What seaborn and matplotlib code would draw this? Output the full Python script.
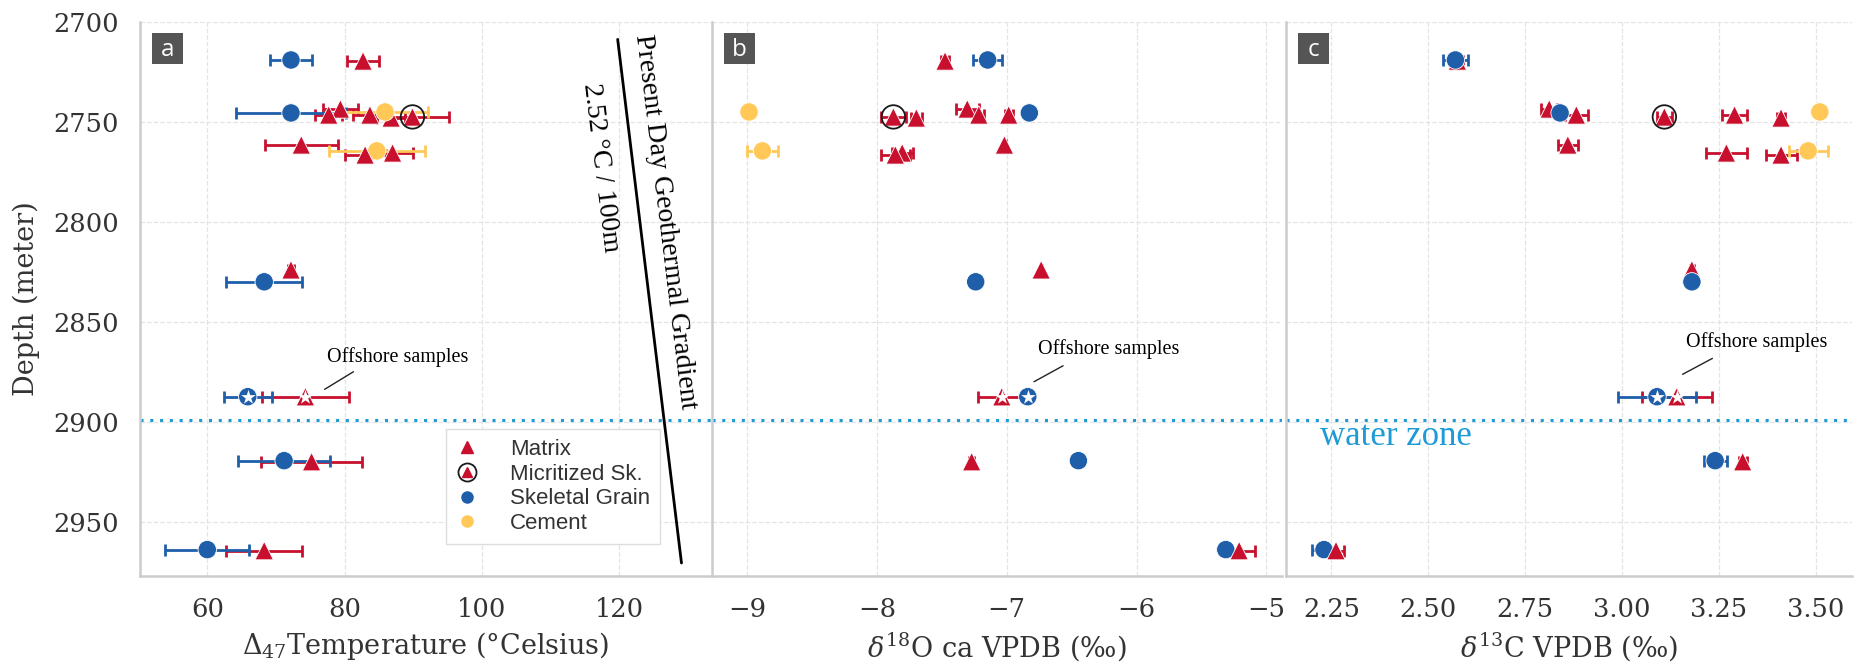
import numpy as np
import pandas as pd
import matplotlib
matplotlib.use("Agg")
import matplotlib.pyplot as plt
from matplotlib.lines import Line2D
from matplotlib.patches import Rectangle
from matplotlib.legend_handler import HandlerTuple
import seaborn as sns

# ---- sample table -------------------------------------------------------
kind = ["Matrix", "Skeletal Grain", "Matrix", "Matrix", "Matrix", "Matrix",
        "Skeletal Grain", "Cement", "Micritized Sk.", "Matrix", "Cement",
        "Matrix", "Matrix", "Matrix", "Skeletal Grain", "Skeletal Grain",
        "Matrix", "Skeletal Grain", "Matrix", "Skeletal Grain", "Matrix"]
depth = [2719.5, 2719.0, 2743.5, 2746.5, 2746.5, 2748.0,
         2745.5, 2745.0, 2747.5, 2761.5, 2764.5,
         2765.5, 2766.5, 2824.0, 2830.0, 2887.5,
         2887.5, 2919.5, 2920.0, 2964.0, 2964.5]
offshore = [False, False, False, False, False, False,
            False, False, False, False, False,
            False, False, False, False, True,
            True, False, False, False, False]

# clumped-isotope temperature (deg C)
temp = [82.7, 72.2, 79.4, 77.7, 83.7, 86.8,
        72.2, 85.9, 89.9, 73.7, 84.7,
        87.0, 83.0, 72.2, 68.3, 65.9,
        74.3, 71.2, 75.2, 60.0, 68.3]
temp_err = [2.3, 3.0, 2.6, 2.0, 2.5, 2.0,
            8.0, 6.3, 5.3, 5.3, 7.0,
            3.0, 3.0, 0.5, 5.5, 3.5,
            6.3, 6.7, 7.3, 6.1, 5.5]

# d18O (permil VPDB)
d18o = [-7.475, -7.147, -7.304, -7.215, -6.985, -7.696,
        -6.826, -8.985, -7.873, -7.018, -8.882,
        -7.805, -7.858, -6.735, -7.239, -6.838,
        -7.038, -6.448, -7.270, -5.313, -5.210]
d18o_err = [0.03, 0.11, 0.09, 0.04, 0.03, 0.04,
            0.01, 0.05, 0.095, 0.01, 0.12,
            0.08, 0.11, 0.01, 0.01, 0.02,
            0.18, 0.01, 0.02, 0.02, 0.12]

# d13C (permil VPDB)
d13c = [2.575, 2.570, 2.812, 2.882, 3.290, 3.410,
        2.840, 3.510, 3.109, 2.860, 3.480,
        3.269, 3.410, 3.180, 3.180, 3.090,
        3.141, 3.240, 3.311, 2.231, 2.262]
d13c_err = [0.015, 0.033, 0.02, 0.03, 0.032, 0.01,
            0.01, 0.01, 0.02, 0.025, 0.05,
            0.053, 0.04, 0.005, 0.005, 0.10,
            0.09, 0.03, 0.01, 0.03, 0.02]

kind_order = ["Matrix", "Micritized Sk.", "Skeletal Grain", "Cement"]
palette = {"Matrix": "#C8102E", "Micritized Sk.": "#C8102E",
           "Skeletal Grain": "#1F5FA9", "Cement": "#FFC857"}
markers = {"Matrix": "^", "Micritized Sk.": "^",
           "Skeletal Grain": "o", "Cement": "o"}

# present-day geothermal gradient (2.52 degC / 100 m)
geotherm_temp = [119.8, 129.1]
geotherm_depth = [2708.7, 2970.7]

water_contact = 2899.0
depth_ticks = [2700, 2750, 2800, 2850, 2900, 2950]

df = pd.DataFrame({
    "kind": kind, "depth": depth, "offshore": offshore,
    "temp": temp, "temp_err": temp_err,
    "d18o": d18o, "d18o_err": d18o_err,
    "d13c": d13c, "d13c_err": d13c_err,
})

# ---- style -------------------------------------------------------------
sns.set_theme(style="whitegrid")
plt.rcParams["font.family"] = ["DejaVu Serif"]
plt.rcParams["mathtext.fontset"] = "dejavuserif"
plt.rcParams["axes.unicode_minus"] = True

panels = [
    dict(col="temp", err="temp_err", xlim=(50.2, 133.4), ticks=[60, 80, 100, 120],
         ticklabels=["60", "80", "100", "120"],
         xlabel=r"$\Delta_{47}$Temperature (°Celsius)", tag="a",
         pos=[140, 571], offshore_text=(87.7, 2867.5),
         offshore_line=([81.3, 77.1], [2875.0, 2883.8])),
    dict(col="d18o", err="d18o_err", xlim=(-9.27, -4.88), ticks=[-9, -8, -7, -6, -5],
         ticklabels=["\u22129", "\u22128", "\u22127", "\u22126", "\u22125"],
         xlabel=r"$\delta^{18}$O ca VPDB (‰)", tag="b",
         pos=[712, 570], offshore_text=(-6.218, 2863.6),
         offshore_line=([-6.566, -6.79], [2872.0, 2880.0])),
    dict(col="d13c", err="d13c_err", xlim=(2.133, 3.593),
         ticks=[2.25, 2.50, 2.75, 3.00, 3.25, 3.50],
         ticklabels=["2.25", "2.50", "2.75", "3.00", "3.25", "3.50"],
         xlabel=r"$\delta^{13}$C VPDB (‰)", tag="c",
         pos=[1286, 566], offshore_text=(3.348, 2860.3),
         offshore_line=([3.233, 3.156], [2868.3, 2876.3])),
]

W, H = 1859, 662
fig = plt.figure(figsize=(W / 100, H / 100), dpi=100)
ax_bottom_px, ax_top_px = 576, 22

axes = []
for i, p in enumerate(panels):
    left_px, width_px = p["pos"]
    ax = fig.add_axes([left_px / W, 1 - ax_bottom_px / H,
                       width_px / W, (ax_bottom_px - ax_top_px) / H])
    axes.append(ax)

    # error bars underneath the symbols
    for k in kind_order:
        sub = df[df["kind"] == k]
        ax.errorbar(sub[p["col"]], sub["depth"], xerr=sub[p["err"]], fmt="none",
                    ecolor=palette[k], elinewidth=2.0, capsize=4.5, capthick=2.0,
                    zorder=2)

    sns.scatterplot(data=df, x=p["col"], y="depth", hue="kind", style="kind",
                    hue_order=kind_order, style_order=kind_order,
                    palette=palette, markers=markers, s=175,
                    edgecolor="white", linewidth=0.6, legend=False, ax=ax, zorder=3)

    mic = df[df["kind"] == "Micritized Sk."]
    ax.scatter(mic[p["col"]], mic["depth"], s=285, facecolors="none",
               edgecolors="#1a1a1a", linewidths=1.3, zorder=4)
    off = df[df["offshore"]]
    ax.scatter(off[p["col"]], off["depth"], marker="*", s=120, color="white",
               linewidths=0, zorder=5)

    ax.axhline(water_contact, color="#1E9BD7", ls=(0, (1, 2.2)), lw=2.2, zorder=1)

    # offshore annotation
    tx, ty = p["offshore_text"]
    ax.text(tx, ty, "Offshore samples", family="Liberation Serif", fontsize=14.5,
            ha="center", va="center", color="black", zorder=6)
    lx, ly = p["offshore_line"]
    ax.plot(lx, ly, color="#222222", lw=1.0, zorder=6)

    ax.set_xlim(*p["xlim"])
    ax.set_ylim(2977.2, 2700)
    ax.set_xticks(p["ticks"])
    ax.set_xticklabels(p["ticklabels"])
    ax.set_yticks(depth_ticks)
    ax.set_xlabel(p["xlabel"], fontsize=19.5, color="#333333", labelpad=6)
    if i == 0:
        ax.set_ylabel("Depth (meter)", fontsize=19.5, color="#333333", labelpad=10)
        ax.tick_params(axis="y", labelsize=18.5, labelcolor="#333333", pad=9)
    else:
        ax.set_ylabel("")
        ax.tick_params(axis="y", labelleft=False)
    ax.tick_params(axis="x", labelsize=18.5, labelcolor="#333333", pad=9)

    ax.grid(True, ls="--", color="#e4e4e4", lw=0.9)
    ax.set_axisbelow(True)
    for side in ["top", "right"]:
        ax.spines[side].set_visible(False)
    for side in ["left", "bottom"]:
        ax.spines[side].set_color("#cccccc")
        ax.spines[side].set_linewidth(1.8)

    # panel tag box
    bw = 31 / width_px
    bh = 31 / (ax_bottom_px - ax_top_px)
    cx, cy = 0.048, 0.953
    ax.add_patch(Rectangle((cx - bw / 2, cy - bh / 2), bw, bh, transform=ax.transAxes,
                           facecolor="#555555", edgecolor="none", zorder=7))
    ax.text(cx, cy - 0.004, p["tag"], transform=ax.transAxes, ha="center", va="center",
            color="white", family="Open Sans", fontsize=17.5, zorder=8)

ax_a, ax_b, ax_c = axes

# geothermal gradient line and its labels
ax_a.plot(geotherm_temp, geotherm_depth, color="black", lw=2.0, zorder=2)
p0 = ax_a.transData.transform((geotherm_temp[0], geotherm_depth[0]))
p1 = ax_a.transData.transform((geotherm_temp[1], geotherm_depth[1]))
angle = np.degrees(np.arctan2(p1[1] - p0[1], p1[0] - p0[0]))
ax_a.text(126.7, 2800.0, "Present Day Geothermal Gradient", family="Liberation Serif",
          fontsize=20, rotation=angle, rotation_mode="anchor", ha="center", va="center",
          color="black")
ax_a.text(117.4, 2773.0, "2.52 °C / 100m", family="Liberation Serif",
          fontsize=20, rotation=angle, rotation_mode="anchor", ha="center", va="center",
          color="black")

ax_c.text(2.221, 2911.6, "water zone", family="Liberation Serif", fontsize=25,
          color="#1E9BD7", ha="left", va="baseline")

# legend
red, blue, yellow = palette["Matrix"], palette["Skeletal Grain"], palette["Cement"]
h_matrix = Line2D([], [], ls="", marker="^", color=red, ms=8)
h_micr = (Line2D([], [], ls="", marker="o", mfc="none", mec="#1a1a1a", mew=1.3, ms=13),
          Line2D([], [], ls="", marker="^", color=red, ms=7.5))
h_skel = Line2D([], [], ls="", marker="o", color=blue, ms=8)
h_cem = Line2D([], [], ls="", marker="o", color=yellow, ms=8)
leg = ax_a.legend([h_matrix, h_micr, h_skel, h_cem],
                  ["Matrix", "Micritized Sk.", "Skeletal Grain", "Cement"],
                  handler_map={tuple: HandlerTuple(ndivide=1)},
                  loc="lower left", bbox_to_anchor=(0.517, 0.038),
                  prop={"family": "Liberation Sans", "size": 16},
                  frameon=True, fancybox=False, edgecolor="#dddddd", framealpha=1,
                  handlelength=1.0, handletextpad=1.4, labelspacing=0.16,
                  borderpad=0.45)
for t in leg.get_texts():
    t.set_color("#333333")
leg.set_zorder(9)

fig.savefig("out.png", dpi=100)
